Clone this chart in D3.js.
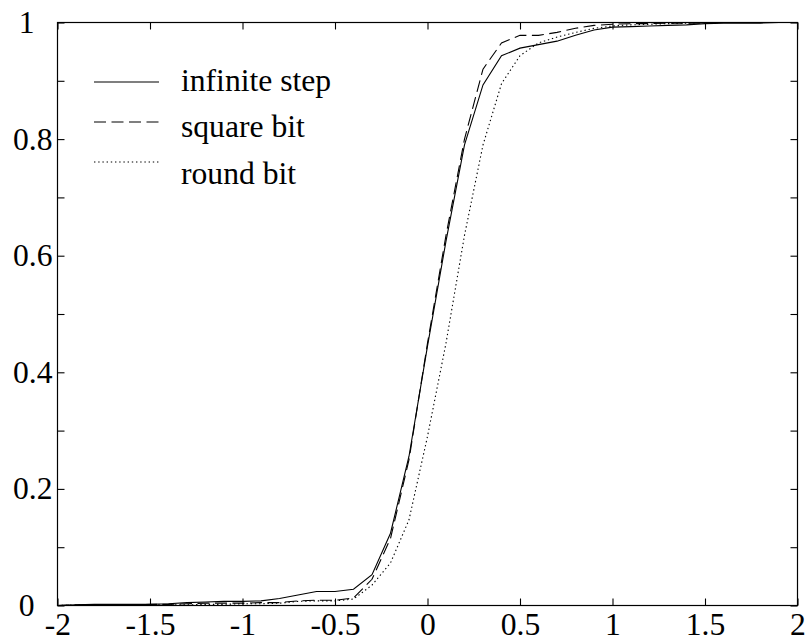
<!DOCTYPE html>
<html>
<head>
<meta charset="utf-8">
<script src="https://cdn.jsdelivr.net/npm/d3@7"></script>
<style>
  body { margin: 0; background: #fff; }
  svg { display: block; }
  text { font-family: "Liberation Serif", "Times New Roman", serif; fill: #000; }
</style>
</head>
<body>
<svg id="chart" width="806" height="642"></svg>
<script>
// sample positions along the offset axis
const xs = [-2.0, -1.9, -1.8, -1.7, -1.6, -1.5, -1.4, -1.3, -1.2, -1.1, -1.0,
  -0.9, -0.8, -0.7, -0.6, -0.5, -0.4, -0.3, -0.2, -0.1, 0.0,
  0.1, 0.2, 0.3, 0.4, 0.5, 0.6, 0.7, 0.8, 0.9, 1.0,
  1.1, 1.2, 1.3, 1.4, 1.5, 1.6, 1.7, 1.8, 1.9, 2.0];

const infiniteStep = [0, 0.001, 0.002, 0.002, 0.002, 0.002, 0.003, 0.005, 0.006, 0.007, 0.007,
  0.008, 0.012, 0.018, 0.024, 0.024, 0.028, 0.053, 0.124, 0.256, 0.445,
  0.625, 0.79, 0.893, 0.943, 0.956, 0.962, 0.968, 0.978, 0.987, 0.992,
  0.993, 0.994, 0.995, 0.996, 0.998, 0.999, 0.999, 0.999, 1.0, 1.0];

const squareBit = [0, 0.001, 0.001, 0.001, 0.001, 0.002, 0.002, 0.003, 0.004, 0.004, 0.004,
  0.005, 0.005, 0.008, 0.009, 0.009, 0.013, 0.045, 0.115, 0.25, 0.45,
  0.635, 0.8, 0.92, 0.965, 0.978, 0.978, 0.983, 0.99, 0.995, 0.997,
  0.998, 0.998, 0.999, 0.999, 0.999, 1.0, 1.0, 1.0, 1.0, 1.0];

const roundBit = [0, 0.001, 0.001, 0.001, 0.001, 0.001, 0.001, 0.001, 0.002, 0.002, 0.003,
  0.003, 0.004, 0.007, 0.008, 0.008, 0.011, 0.035, 0.073, 0.147, 0.29,
  0.45, 0.635, 0.79, 0.895, 0.943, 0.965, 0.975, 0.983, 0.99, 0.994,
  0.996, 0.997, 0.998, 0.999, 1.0, 1.0, 1.0, 1.0, 1.0, 1.0];

const xTicks = [-2, -1.5, -1, -0.5, 0, 0.5, 1, 1.5, 2];
const yTicks = [0, 0.1, 0.2, 0.3, 0.4, 0.5, 0.6, 0.7, 0.8, 0.9, 1];
const yLabels = [0, 0.2, 0.4, 0.6, 0.8, 1];

const series = [
  { name: "infinite step", values: infiniteStep, dash: null },
  { name: "square bit", values: squareBit, dash: "12,5.5" },
  { name: "round bit", values: roundBit, dash: "1.4,2.8" }
];

const svg = d3.select("#chart");
const plotLeft = 57.5, plotRight = 797.5, plotTop = 22.5, plotBottom = 605.5;
const tickLen = 7;
const fontSize = 31;
const stretch = 1.02;

const x = d3.scaleLinear().domain([-2, 2]).range([plotLeft, plotRight]);
const y = d3.scaleLinear().domain([0, 1]).range([plotBottom, plotTop]);

// curves
const line = d3.line()
  .x((d, i) => x(xs[i]))
  .y(d => y(d));

svg.append("g").attr("class", "curves")
  .selectAll("path")
  .data(series)
  .join("path")
  .attr("d", d => line(d.values))
  .attr("fill", "none")
  .attr("stroke", "#000")
  .attr("stroke-width", 1.1)
  .attr("stroke-dasharray", d => d.dash);

// frame
svg.append("rect")
  .attr("x", plotLeft).attr("y", plotTop)
  .attr("width", plotRight - plotLeft).attr("height", plotBottom - plotTop)
  .attr("fill", "none").attr("stroke", "#000").attr("stroke-width", 1.2);

// plain hyphen for negatives, %g-like otherwise
const fmt = d => String(+(+d).toFixed(1));
const isLabelled = d => yLabels.some(v => Math.abs(v - d) < 1e-9);

// inward ticks on every side
const bottomAxis = d3.axisBottom(x).tickValues(xTicks).tickSize(-tickLen).tickPadding(7)
  .tickFormat(fmt);
const topAxis = d3.axisTop(x).tickValues(xTicks).tickSize(-tickLen).tickFormat("");
const leftAxis = d3.axisLeft(y).tickValues(yTicks).tickSize(-tickLen).tickPadding(5)
  .tickFormat(d => isLabelled(d) ? fmt(d) : "");
const rightAxis = d3.axisRight(y).tickValues(yTicks).tickSize(-tickLen).tickFormat("");

function stretchText(sel) {
  sel.each(function () {
    const t = d3.select(this);
    const tx = +t.attr("x") || 0, ty = +t.attr("y") || 0;
    t.attr("x", 0).attr("y", 0)
      .attr("transform", `translate(${tx},${ty}) scale(${stretch},1)`);
  });
}

function styleAxis(g) {
  g.select(".domain").remove();
  g.selectAll(".tick line").attr("stroke", "#000").attr("stroke-width", 1.1);
  g.selectAll(".tick text")
    .style("font-family", '"Liberation Serif", "Times New Roman", serif')
    .style("font-size", fontSize + "px")
    .attr("fill", "#000")
    .call(stretchText);
}

svg.append("g").attr("transform", `translate(0,${plotBottom})`).call(bottomAxis).call(styleAxis);
svg.append("g").attr("transform", `translate(0,${plotTop})`).call(topAxis).call(styleAxis);
const leftG = svg.append("g").attr("transform", `translate(${plotLeft},0)`).call(leftAxis).call(styleAxis);
svg.append("g").attr("transform", `translate(${plotRight},0)`).call(rightAxis).call(styleAxis);

// the whole-number labels sit further out than the decimals
leftG.selectAll(".tick text")
  .filter(d => d === 0 || d === 1)
  .attr("transform", `translate(-23,0) scale(${stretch},1)`);

// legend
const legend = svg.append("g").attr("class", "legend");
const legendLineY = [82, 122, 162];
const legendTextY = [91, 137, 184];
series.forEach((s, i) => {
  legend.append("line")
    .attr("x1", 94).attr("x2", 159)
    .attr("y1", legendLineY[i]).attr("y2", legendLineY[i])
    .attr("stroke", "#000").attr("stroke-width", 1.1)
    .attr("stroke-dasharray", s.dash);
  legend.append("text")
    .attr("transform", `translate(181,${legendTextY[i]}) scale(${stretch},1)`)
    .style("font-size", fontSize + "px")
    .text(s.name);
});
</script>
</body>
</html>
